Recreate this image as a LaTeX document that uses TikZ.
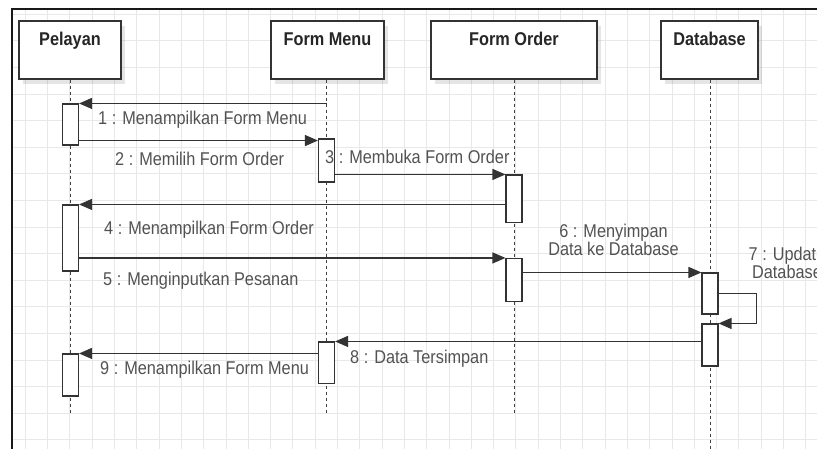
\documentclass[tikz,border=0pt]{standalone}
\usepackage{fontspec}
\setmainfont{Liberation Sans}[FakeStretch=0.88]
\usetikzlibrary{arrows.meta,shadows}
\newcommand{\lblfont}{\fontsize{18.5}{20}\selectfont}
\newcommand{\ttlfont}{\fontsize{18.5}{20}\selectfont\bfseries}
\tikzset{
  headbox/.style={draw=black!80, line width=1.1pt, fill=white, minimum height=58pt, inner sep=0pt,
    drop shadow={shadow xshift=4pt, shadow yshift=-5pt, opacity=0.10, fill=black}},
  actbox/.style={draw=black!80, line width=1.1pt, fill=white, minimum width=16pt, inner sep=0pt},
  lifeline/.style={draw=black!75, line width=1pt, dash pattern=on 3pt off 3pt},
  msg/.style={draw=black!80, line width=1.2pt, -{Triangle[length=13pt,width=11pt]}},
  lbl/.style={text=black!68, font=\lblfont, inner sep=0pt, anchor=base west},
  lblc/.style={text=black!68, font=\lblfont, inner sep=0pt, anchor=base},
  ttl/.style={text=black!85, font=\ttlfont, inner sep=0pt, anchor=base},
  gridline/.style={draw=black!9, line width=0.7pt},
  framestyle/.style={draw=black!90, line width=1.5pt},
}
\begin{document}
\begin{tikzpicture}[x=1pt,y=-1pt]
\useasboundingbox (0,0) rectangle (817,449);
% grid
\begin{scope}
  \clip (12,9) rectangle (817,449);
  \foreach \i in {0,...,36} \draw[gridline] ({2.9+22.3*\i},9) -- ({2.9+22.3*\i},449);
  \foreach \j in {0,...,16} \draw[gridline] (12,{14.2+26.6*\j}) -- (817,{14.2+26.6*\j});
\end{scope}
% frame
\draw[framestyle] (12,449) -- (12,9) -- (817,9);
% head boxes
\node[headbox, minimum width=102pt] (P) at (70,50) {};
\node[headbox, minimum width=113pt] (M) at (327.5,50) {};
\node[headbox, minimum width=166pt] (O) at (514,50) {};
\node[headbox, minimum width=97pt] (D) at (709.5,50) {};
\node[ttl] (Pt) at ([yshift=-25pt]P.north) {Pelayan};
\node[ttl] (Mt) at ([yshift=-25pt]M.north) {Form Menu};
\node[ttl] (Ot) at ([yshift=-25pt]O.north) {Form Order};
\node[ttl] (Dt) at ([yshift=-25pt]D.north) {Database};
% lifelines
\coordinate (Pe) at (70.5,415);
\coordinate (Me) at (326.5,415);
\coordinate (Oe) at (514,415);
\coordinate (De) at (710,452);
\draw[lifeline] (Pe |- P.south) -- (Pe);
\draw[lifeline] (Me |- M.south) -- (Me);
\draw[lifeline] (Oe |- O.south) -- (Oe);
\draw[lifeline] (De |- D.south) -- (De);
% activations
\node[actbox, minimum height=41pt] (PA1) at (70.5,124.5) {};
\node[actbox, minimum height=66pt] (PA2) at (70.5,238) {};
\node[actbox, minimum height=42pt] (PA3) at (70.5,375) {};
\node[actbox, minimum height=43pt] (MA1) at (326.5,160.5) {};
\node[actbox, minimum height=41.5pt] (MA2) at (326.5,362.75) {};
\node[actbox, minimum height=47.5pt] (OA1) at (514,198.75) {};
\node[actbox, minimum height=43pt] (OA2) at (514,280) {};
\node[actbox, minimum height=41pt] (DA1) at (710,293.5) {};
\node[actbox, minimum height=42pt] (DA2) at (710,345) {};
% messages
\draw[msg] (Me |- PA1.north) -- (PA1.north east);
\draw[msg] ([yshift=5pt]PA1.south east) -- ([yshift=5pt]PA1.south east -| MA1.west);
\draw[msg] (MA1.east |- OA1.north) -- (OA1.north west);
\draw[msg] (OA1.west |- PA2.north) -- (PA2.north east);
\draw[msg] (PA2.east |- OA2.north) -- (OA2.north west);
\draw[msg] (OA2.east |- DA1.north) -- (DA1.north west);
\draw[msg] ([yshift=-21pt]DA1.north east) -- ++(38,0) |- (DA2.north east);
\draw[msg] (DA2.west |- MA2.north) -- (MA2.north east);
\draw[msg] (MA2.west |- PA3.north) -- (PA3.north east);
% labels
\node[lbl] (L1) at (98,125) {1 : Menampilkan Form Menu};
\node[lbl] (L2) at (115,165.5) {2 : Memilih Form Order};
\node[lbl] (L3) at (325,163.3) {3 : Membuka Form Order};
\node[lbl] (L4) at (104,235) {4 : Menampilkan Form Order};
\node[lbl] (L5) at (103,285.5) {5 : Menginputkan Pesanan};
\node[lblc] (L6a) at (613.5,238) {6 : Menyimpan};
\node[lblc] (L6b) at (613.5,255.5) {Data ke Database};
\node[lblc] (L7a) at (787,261) {7 : Update};
\node[lblc] (L7b) at (787,279) {Database};
\node[lbl] (L8) at (350,363.5) {8 : Data Tersimpan};
\node[lbl] (L9) at (100,374.5) {9 : Menampilkan Form Menu};
\end{tikzpicture}
\end{document}
